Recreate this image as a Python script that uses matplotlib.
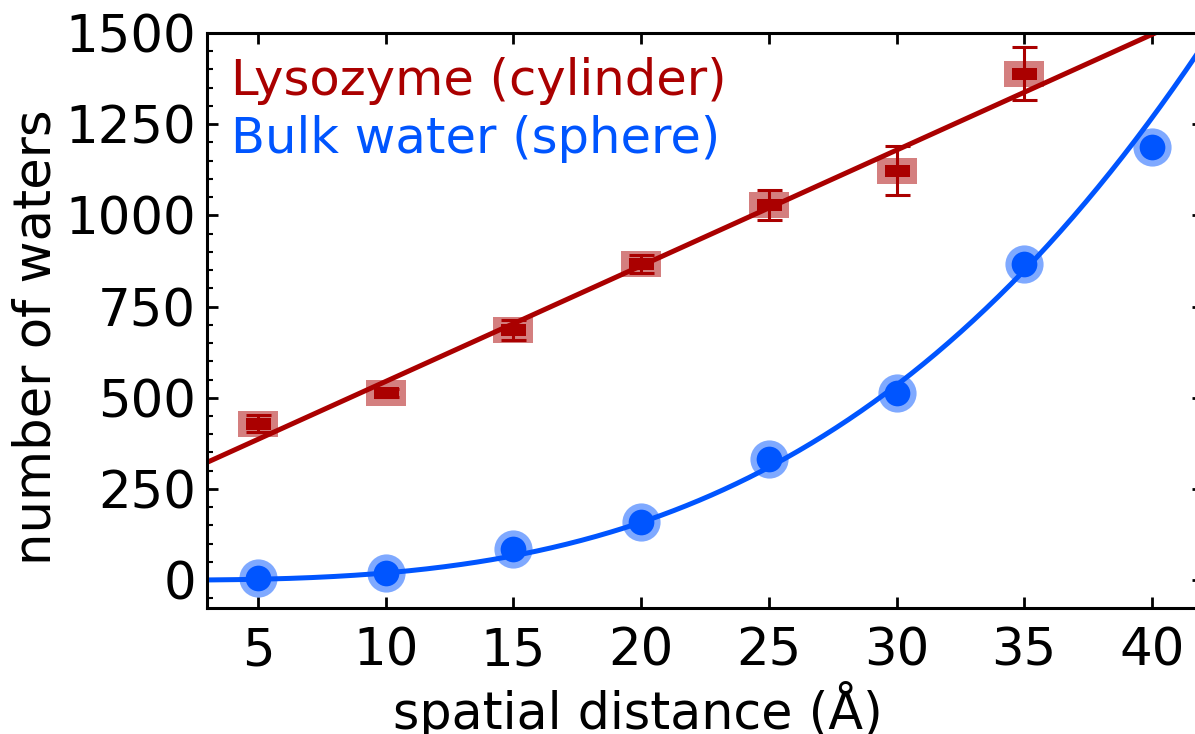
import numpy as np
import matplotlib
matplotlib.use("Agg")
import matplotlib.pyplot as plt
from matplotlib.path import Path
from matplotlib.ticker import MultipleLocator

# distances (Angstrom) at which waters were counted
distance = [5, 10, 15, 20, 25, 30, 35, 40]

# lysozyme hydration shell (cylinder geometry), mean and spread
lyso_dist = [5, 10, 15, 20, 25, 30, 35]
lyso_waters = [429, 513, 686, 866, 1028, 1123, 1388]
lyso_err = [23, 12, 27, 25, 41, 67, 73]

# bulk water sphere counts
bulk_waters = [5, 19, 85, 159, 332, 513, 866, 1187]
# cubic coefficient of the sphere model n = k * r^3
sphere_k = 0.0198

RED = "#aa0000"
BLUE = "#0055ff"

plt.rcParams["font.family"] = ["DejaVu Sans"]

fig = plt.figure(figsize=(11.95, 7.34), dpi=100)
ax = fig.add_axes([207 / 1195, 1 - 607.5 / 734, 996 / 1195, 574.5 / 734])

xs = np.linspace(3, 42, 400)

# linear fit through the lysozyme counts
slope, intercept = np.polyfit(lyso_dist, lyso_waters, 1)
ax.plot(xs, slope * xs + intercept, color=RED, lw=3.6, zorder=2)
ax.plot(xs, sphere_k * xs ** 3, color=BLUE, lw=3.6, zorder=2)

# rectangular markers for the lysozyme points
wide_rect = Path([(-1.5, -1.0), (1.5, -1.0), (1.5, 1.0), (-1.5, 1.0), (-1.5, -1.0)],
                 [Path.MOVETO, Path.LINETO, Path.LINETO, Path.LINETO, Path.CLOSEPOLY])
flat_rect = Path([(-1.0, -0.5), (1.0, -0.5), (1.0, 0.5), (-1.0, 0.5), (-1.0, -0.5)],
                 [Path.MOVETO, Path.LINETO, Path.LINETO, Path.LINETO, Path.CLOSEPOLY])

ax.errorbar(lyso_dist, lyso_waters, yerr=lyso_err, fmt="none", ecolor=RED,
            elinewidth=2.2, capsize=9, capthick=2.2, zorder=3)
ax.plot(lyso_dist, lyso_waters, ls="none", marker=wide_rect, ms=28.5, mew=0,
        mfc=RED, alpha=0.5, zorder=4)
lyso_line, = ax.plot(lyso_dist, lyso_waters, ls="none", marker=flat_rect, ms=18,
                     mew=0, mfc=RED, color=RED, zorder=5,
                     label="Lysozyme (cylinder)")

ax.plot(distance, bulk_waters, ls="none", marker="o", ms=27.5, mew=0,
        mfc=BLUE, alpha=0.5, zorder=4)
bulk_line, = ax.plot(distance, bulk_waters, ls="none", marker="o", ms=18.5,
                     mew=0, mfc=BLUE, color=BLUE, zorder=5,
                     label="Bulk water (sphere)")

ax.set_xlim(3, 42)
ax.set_ylim(-75, 1500)
ax.xaxis.set_major_locator(MultipleLocator(5))
ax.yaxis.set_major_locator(MultipleLocator(250))
ax.yaxis.set_minor_locator(MultipleLocator(50))

ax.tick_params(axis="both", which="both", direction="in", top=True, right=True)
ax.tick_params(axis="both", which="major", length=8, width=2, labelsize=37)
ax.tick_params(axis="both", which="minor", length=4.5, width=1.5)
ax.tick_params(axis="x", which="major", pad=14)
ax.tick_params(axis="y", which="major", pad=8)
for sp in ax.spines.values():
    sp.set_linewidth(2.2)

ax.set_xlabel("spatial distance (Å)", fontsize=36.5)
ax.xaxis.set_label_coords(0.433, -0.128)
ax.set_ylabel("number of waters", fontsize=37)
ax.yaxis.set_label_coords(-0.146, 0.47)

leg = ax.legend(handles=[lyso_line, bulk_line], loc="upper left",
                handlelength=0, handletextpad=0, frameon=False,
                fontsize=35.7, labelcolor="linecolor",
                borderaxespad=0.28, borderpad=0.2, labelspacing=0.21)
for h in leg.legend_handles:
    h.set_visible(False)

fig.savefig("out.png", dpi=100)
